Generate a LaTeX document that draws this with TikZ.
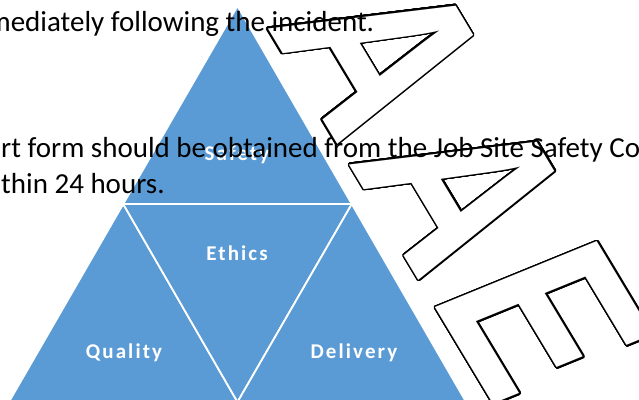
\documentclass[tikz,border=0pt]{standalone}
\usepackage{fontspec}
\usepackage{contour}
\setmainfont{Carlito}
\newfontfamily\wordart[FakeStretch=0.8]{Liberation Sans}
\definecolor{pyramid}{HTML}{5B9BD5}
\contourlength{1.5pt}
\contournumber{32}
\tikzset{
  piece/.style={fill=pyramid,draw=white,line width=1.8pt},
  facet/.style={text=white,inner sep=0pt,font=\bfseries\fontsize{21}{21}\selectfont\addfontfeature{LetterSpace=10}},
  bodytext/.style={anchor=base west,inner sep=0pt,font=\fontsize{29}{34}\selectfont},
  aaeword/.style={anchor=base west,inner sep=0pt,text=white,font=\wordart\bfseries\itshape\fontsize{251}{251}\selectfont}
}
\begin{document}
\begin{tikzpicture}[x=1pt,y=-1pt]
\useasboundingbox (0,0) rectangle (639,399);
\clip (0,0) rectangle (639,399);
% corners of the pyramid
\coordinate (apex) at (237.5,6);
\coordinate (ml) at (123.2,204);
\coordinate (mr) at (351.8,204);
\coordinate (bl) at (8.9,402);
\coordinate (bm) at (237.5,402);
\coordinate (br) at (466.1,402);
\draw[piece] (apex)--(mr)--(ml)--cycle;
\draw[piece] (ml)--(bm)--(bl)--cycle;
\draw[piece] (ml)--(mr)--(bm)--cycle;
\draw[piece] (mr)--(br)--(bm)--cycle;
\node[facet] (safety) at (237,155) {Safety};
\node[facet] (ethics) at (237,253) {Ethics};
\node[facet] (quality) at (124,353) {Quality};
\node[facet] (delivery) at (354,353) {Delivery};
% outlined letters
\node[aaeword,rotate=-59] (aae) at (270,32) {\contour{black}{A\kern14pt A\kern14pt E}};
% text lines over everything
\node[bodytext] (line1) at (-12.6,31) {mediately following the incident.};
\node[bodytext] (line2) at (1,157) {rt form should be obtained from the Job Site Safety Co};
\node[bodytext] (line3) at (1,193) {thin 24 hours.};
\end{tikzpicture}
\end{document}
